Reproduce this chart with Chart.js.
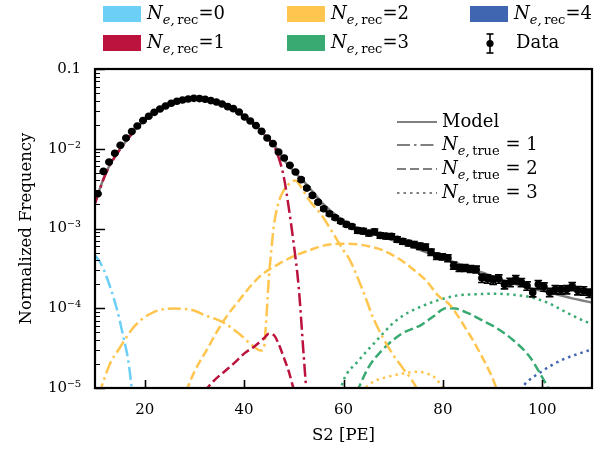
<!DOCTYPE html>
<html lang="en">
<head>
<meta charset="UTF-8">
<title>S2 spectrum by reconstructed electrons</title>
<script src="https://cdn.jsdelivr.net/npm/chart.js"></script>
<style>
  body { margin: 0; background: #fff; }
  #wrap { position: relative; width: 611px; height: 449px; font-family: 'DejaVu Serif', serif; color: #000; overflow: hidden; }
  #chart { position: absolute; left: 0; top: 0; }
  .patch { position: absolute; width: 38px; height: 16px; }
  .lbl { position: absolute; font-size: 18px; line-height: 20px; white-space: nowrap; }
  .lbl i { font-style: italic; }
  .lbl sub { font-size: 13px; line-height: 0; vertical-align: -5px; }
  svg.keys { position: absolute; left: 0; top: 0; }
</style>
</head>
<body>
<div id="wrap">
  <canvas id="chart" width="611" height="449"></canvas>
  <div id="legends"></div>
</div>
<script>
// ---- data ----
const binCenters = [10.57, 11.70, 12.84, 13.98, 15.11, 16.25, 17.39, 18.52, 19.66, 20.80,
  21.93, 23.07, 24.20, 25.34, 26.48, 27.61, 28.75, 29.89, 31.02, 32.16,
  33.30, 34.43, 35.57, 36.70, 37.84, 38.98, 40.11, 41.25, 42.39, 43.52,
  44.66, 45.80, 46.93, 48.07, 49.20, 50.34, 51.48, 52.61, 53.75, 54.89,
  56.02, 57.16, 58.30, 59.43, 60.57, 61.70, 62.84, 63.98, 65.11, 66.25,
  67.39, 68.52, 69.66, 70.80, 71.93, 73.07, 74.20, 75.34, 76.48, 77.61,
  78.75, 79.89, 81.02, 82.16, 83.30, 84.43, 85.57, 86.70, 87.84, 88.98,
  90.11, 91.25, 92.39, 93.52, 94.66, 95.80, 96.93, 98.07, 99.20, 100.34,
  101.48, 102.61, 103.75, 104.89, 106.02, 107.16, 108.30, 109.43];
const dataValues = [2.73e-3, 5.20e-3, 6.81e-3, 8.75e-3, 0.01104, 0.01361, 0.01640, 0.01927, 0.02253, 0.02552,
  0.02862, 0.03148, 0.03435, 0.03713, 0.03934, 0.04083, 0.04205, 0.04285, 0.04256, 0.04169,
  0.04017, 0.03855, 0.03639, 0.03373, 0.03185, 0.02886, 0.02500, 0.02228, 0.01950, 0.01652,
  0.01361, 0.01159, 9.10e-3, 7.64e-3, 6.19e-3, 5.10e-3, 4.10e-3, 3.21e-3, 2.60e-3, 2.14e-3,
  1.77e-3, 1.53e-3, 1.37e-3, 1.23e-3, 1.125e-3, 1.06e-3, 9.47e-4, 9.27e-4, 8.75e-4, 9.12e-4,
  8.19e-4, 8.03e-4, 7.96e-4, 7.30e-4, 6.89e-4, 6.56e-4, 6.31e-4, 6.01e-4, 5.85e-4, 5.06e-4,
  4.51e-4, 4.43e-4, 4.26e-4, 3.44e-4, 3.22e-4, 3.22e-4, 3.13e-4, 3.07e-4, 2.39e-4, 2.34e-4,
  2.26e-4, 2.34e-4, 1.99e-4, 2.12e-4, 2.30e-4, 2.11e-4, 1.91e-4, 1.58e-4, 1.99e-4, 1.86e-4,
  1.59e-4, 1.72e-4, 1.71e-4, 1.72e-4, 1.88e-4, 1.67e-4, 1.66e-4, 1.55e-4];
// relative size of the error bars
const dataRelErr = [0.02, 0.02, 0.02, 0.02, 0.02, 0.02, 0.02, 0.02, 0.02, 0.02,
  0.02, 0.02, 0.02, 0.02, 0.02, 0.02, 0.02, 0.02, 0.02, 0.02,
  0.02, 0.02, 0.02, 0.02, 0.02, 0.02, 0.02, 0.02, 0.02, 0.02,
  0.02, 0.02, 0.02, 0.02, 0.02, 0.02, 0.04, 0.04, 0.04, 0.04,
  0.05, 0.05, 0.05, 0.05, 0.06, 0.06, 0.08, 0.08, 0.08, 0.08,
  0.08, 0.08, 0.08, 0.08, 0.08, 0.08, 0.09, 0.09, 0.09, 0.09,
  0.09, 0.09, 0.10, 0.10, 0.10, 0.10, 0.10, 0.10, 0.12, 0.12,
  0.12, 0.12, 0.12, 0.12, 0.12, 0.12, 0.12, 0.12, 0.12, 0.12,
  0.12, 0.12, 0.12, 0.12, 0.12, 0.12, 0.12, 0.12];

const modelX = [10, 12, 14, 16, 18, 20, 22, 24, 26, 28, 30, 32, 34, 36, 38, 40, 42, 44, 46, 48,
  50, 52, 54, 56, 58, 60, 62, 64, 66, 68, 70, 72, 74, 76, 78, 80, 82, 84, 86, 88,
  90, 92, 94, 96, 98, 100, 102, 104, 106, 108, 110];
const modelY = [2.1e-3, 4.7e-3, 8.0e-3, 0.0119, 0.0171, 0.0229, 0.0287, 0.0337, 0.0383, 0.0412,
  0.0425, 0.0419, 0.0393, 0.0355, 0.0313, 0.0251, 0.0204, 0.0151, 0.0112, 7.3e-3,
  5.2e-3, 3.9e-3, 2.8e-3, 2.0e-3, 1.55e-3, 1.25e-3, 1.06e-3, 9.4e-4, 8.5e-4, 7.8e-4,
  7.1e-4, 6.5e-4, 5.9e-4, 5.2e-4, 4.7e-4, 4.25e-4, 3.85e-4, 3.45e-4, 3.1e-4, 2.8e-4,
  2.5e-4, 2.25e-4, 2.05e-4, 1.9e-4, 1.76e-4, 1.65e-4, 1.54e-4, 1.43e-4, 1.33e-4, 1.25e-4, 1.18e-4];

// N_e,rec = 0
const rec0True1X = [10, 11, 12.3, 14.3, 15.7, 16.7, 17.4, 17.8];
const rec0True1Y = [4.6e-4, 3.8e-4, 2.5e-4, 1.03e-4, 4.4e-5, 2.2e-5, 1e-5, 7e-6];
// N_e,rec = 1
const rec1True1X = [10, 12, 14, 16, 18, 20, 22, 24, 26, 28, 30, 32, 34, 36, 38, 40, 42, 44, 46, 47,
  48, 49, 50, 51, 52, 52.6];
const rec1True1Y = [2.05e-3, 4.6e-3, 7.9e-3, 0.0118, 0.0170, 0.0228, 0.0286, 0.0336, 0.0382, 0.0411,
  0.0422, 0.0418, 0.0392, 0.0354, 0.0312, 0.0250, 0.0203, 0.0150, 0.0108, 7.6e-3,
  4.4e-3, 1.8e-3, 6.3e-4, 1.8e-4, 2.5e-5, 8e-6];
const rec1True2X = [32.0, 34, 36, 38, 40, 42, 44, 45, 46, 47, 48, 49, 50.1];
const rec1True2Y = [9e-6, 1.25e-5, 1.6e-5, 2.05e-5, 2.7e-5, 3.3e-5, 4.2e-5, 4.8e-5, 4.6e-5, 3.5e-5, 2.4e-5, 1.6e-5, 9e-6];
// N_e,rec = 2
const rec2True1X = [10.7, 13, 15, 18, 21.7, 25.7, 29.3, 32.3, 35.7, 39, 41.7, 43.3, 44, 44.5, 45, 45.5,
  46, 47, 48, 49, 50.3, 51.5, 53, 55.5, 58, 60, 61.3, 64, 66, 68, 70, 72, 74.7, 75.3];
const rec2True1Y = [8e-6, 2e-5, 3.2e-5, 6e-5, 8.9e-5, 9.9e-5, 9.6e-5, 8.1e-5, 6.7e-5, 4.8e-5, 3.4e-5, 2.95e-5, 3.2e-5, 8e-5, 2.5e-4, 5.5e-4,
  1.1e-3, 2.2e-3, 3.0e-3, 3.6e-3, 4.0e-3, 3.3e-3, 2.3e-3, 1.5e-3, 8.5e-4, 5.3e-4, 4.0e-4, 1.6e-4, 7.5e-5, 4.2e-5, 2.6e-5, 1.75e-5, 1e-5, 8e-6];
const rec2True2X = [28.3, 30, 32.4, 35.7, 39, 43, 47, 50, 53, 56, 59.5, 62, 65, 67.7, 70, 72.4, 74.5, 76.7,
  79, 81.4, 84, 87.2, 90.5, 91.2];
const rec2True2Y = [9e-6, 1.6e-5, 2.95e-5, 6.7e-5, 1.26e-4, 2.46e-4, 3.6e-4, 4.5e-4, 5.3e-4, 6.1e-4, 6.45e-4, 6.4e-4, 6.0e-4, 5.4e-4, 4.6e-4, 3.7e-4, 2.9e-4, 2.2e-4,
  1.45e-4, 1.1e-4, 6.4e-5, 2.95e-5, 1.1e-5, 8e-6];
const rec2True3X = [63.5, 66, 68.7, 72, 74.7, 77, 78.7, 79.8, 80.2];
const rec2True3Y = [9e-6, 1.2e-5, 1.37e-5, 1.52e-5, 1.6e-5, 1.5e-5, 1.3e-5, 1.02e-5, 9e-6];
// N_e,rec = 3
const rec3True2X = [62.7, 65, 67.7, 71.7, 75.7, 78.2, 80.6, 82.5, 85.2, 88, 90.5, 94.1, 97.5, 99.6, 101.2, 101.6];
const rec3True2Y = [9e-6, 1.8e-5, 2.95e-5, 4.8e-5, 6.2e-5, 8.0e-5, 1.0e-4, 9.9e-5, 8.6e-5, 7.0e-5, 5.8e-5, 4.0e-5, 2.45e-5, 1.5e-5, 1e-5, 9e-6];
const rec3True3X = [59.3, 60, 63, 66, 70.7, 76.1, 82.7, 87, 90.8, 94, 97.5, 101, 104.2, 107, 110];
const rec3True3Y = [9e-6, 1.25e-5, 2.2e-5, 3.55e-5, 7.1e-5, 1.08e-4, 1.44e-4, 1.5e-4, 1.52e-4, 1.48e-4, 1.38e-4, 1.18e-4, 9.3e-5, 7.6e-5, 6.3e-5];
// N_e,rec = 4
const rec4True3X = [95.5, 97, 99.8, 102, 104.5, 107, 110];
const rec4True3Y = [9.5e-6, 1.2e-5, 1.6e-5, 1.95e-5, 2.33e-5, 2.65e-5, 3.05e-5];

const xTicks = [20, 40, 60, 80, 100];
const yTickValues = [1e-5, 1e-4, 1e-3, 1e-2, 1e-1];
const yTickLabels = ['10\u207B\u2075', '10\u207B\u2074', '10\u207B\u00B3', '10\u207B\u00B2', '0.1'];

const recLabels = ['0', '1', '2', '3', '4'];
const recColors = ['rgb(108,207,246)', 'rgb(187,19,62)', 'rgb(255,197,79)', 'rgb(57,170,114)', 'rgb(64,101,177)'];
const trueLabels = ['1', '2', '3'];

// ---- styles ----
const DASHDOT = [13, 4, 2.5, 4];
const DASHED = [9, 4];
const DOTTED = [2.5, 4];
const GRAY = 'rgb(128,128,128)';
const FONT = "'DejaVu Serif', serif";

function curve(xs, ys, color, dash, order) {
  return {
    data: xs.map((x, i) => ({ x: x, y: ys[i] })),
    borderColor: color,
    borderWidth: 2.5,
    borderDash: dash,
    pointRadius: 0,
    fill: false,
    cubicInterpolationMode: 'monotone',
    order: order
  };
}

const datasets = [
  {
    data: binCenters.map((x, i) => ({ x: x, y: dataValues[i] })),
    showLine: false,
    pointRadius: 3.8,
    pointBackgroundColor: '#000',
    pointBorderColor: '#000',
    pointBorderWidth: 0,
    order: 0
  },
  curve(modelX, modelY, GRAY, [], 2),
  curve(rec0True1X, rec0True1Y, recColors[0], DASHDOT, 1),
  curve(rec1True1X, rec1True1Y, recColors[1], DASHDOT, 1),
  curve(rec1True2X, rec1True2Y, recColors[1], DASHED, 1),
  curve(rec2True1X, rec2True1Y, recColors[2], DASHDOT, 1),
  curve(rec2True2X, rec2True2Y, recColors[2], DASHED, 1),
  curve(rec2True3X, rec2True3Y, recColors[2], DOTTED, 1),
  curve(rec3True2X, rec3True2Y, recColors[3], DASHED, 1),
  curve(rec3True3X, rec3True3Y, recColors[3], DOTTED, 1),
  curve(rec4True3X, rec4True3Y, recColors[4], DOTTED, 1)
];

// error bars on the data points
const errorBars = {
  id: 'errorBars',
  afterDatasetsDraw(chart) {
    const ctx = chart.ctx;
    const x = chart.scales.x, y = chart.scales.y;
    ctx.save();
    ctx.strokeStyle = '#000';
    ctx.lineWidth = 1.6;
    binCenters.forEach((bx, i) => {
      const px = x.getPixelForValue(bx);
      const lo = y.getPixelForValue(dataValues[i] * (1 - dataRelErr[i]));
      const hi = y.getPixelForValue(dataValues[i] * (1 + dataRelErr[i]));
      ctx.beginPath();
      ctx.moveTo(px, lo); ctx.lineTo(px, hi);
      ctx.moveTo(px - 3.8, lo); ctx.lineTo(px + 3.8, lo);
      ctx.moveTo(px - 3.8, hi); ctx.lineTo(px + 3.8, hi);
      ctx.stroke();
    });
    ctx.restore();
  }
};

// inward ticks and the frame
const axisDecor = {
  id: 'axisDecor',
  afterDraw(chart) {
    const ctx = chart.ctx;
    const a = chart.chartArea;
    const x = chart.scales.x, y = chart.scales.y;
    ctx.save();
    ctx.strokeStyle = '#000';
    ctx.lineWidth = 1.6;
    ctx.beginPath();
    xTicks.forEach(v => {
      const px = Math.round(x.getPixelForValue(v)) + 0.5;
      ctx.moveTo(px, a.bottom); ctx.lineTo(px, a.bottom - 8);
    });
    yTickValues.forEach(v => {
      const py = Math.round(y.getPixelForValue(v)) + 0.5;
      ctx.moveTo(a.left, py); ctx.lineTo(a.left + 10, py);
    });
    ctx.stroke();
    ctx.lineWidth = 1.1;
    ctx.beginPath();
    for (let k = 0; k < yTickValues.length - 1; k++) {
      for (let m = 2; m < 10; m++) {
        const py = Math.round(y.getPixelForValue(yTickValues[k] * m)) + 0.5;
        ctx.moveTo(a.left, py); ctx.lineTo(a.left + 5, py);
      }
    }
    ctx.stroke();
    ctx.lineWidth = 2.2;
    ctx.strokeRect(a.left, a.top, a.right - a.left, a.bottom - a.top);
    ctx.restore();
  }
};

new Chart(document.getElementById('chart').getContext('2d'), {
  type: 'line',
  data: { datasets: datasets },
  options: {
    responsive: false,
    animation: false,
    events: [],
    layout: { padding: { left: 0, top: 69, right: 19, bottom: 0 } },
    plugins: { legend: { display: false }, tooltip: { enabled: false } },
    scales: {
      x: {
        type: 'linear',
        min: 10,
        max: 110,
        afterFit: s => { s.height = 61; },
        afterBuildTicks: s => { s.ticks = xTicks.map(v => ({ value: v })); },
        grid: { display: false, drawTicks: false },
        border: { display: false },
        ticks: { autoSkip: false, maxRotation: 0, padding: 13, color: '#000', font: { family: FONT, size: 15 } },
        title: { display: true, text: 'S2 [PE]', color: '#000', font: { family: FONT, size: 16.5 }, padding: { top: 0, bottom: 3 } }
      },
      y: {
        type: 'logarithmic',
        min: 1e-5,
        max: 0.1,
        afterFit: s => { s.width = 95; },
        afterBuildTicks: s => { s.ticks = yTickValues.map(v => ({ value: v, major: true })); },
        grid: { display: false, drawTicks: false },
        border: { display: false },
        ticks: {
          autoSkip: false,
          padding: 14,
          color: '#000',
          font: { family: FONT, size: 15 },
          callback: v => {
            const k = yTickValues.findIndex(t => Math.abs(Math.log10(t) - Math.log10(v)) < 1e-6);
            return k < 0 ? '' : yTickLabels[k];
          }
        },
        title: { display: true, text: 'Normalized Frequency', color: '#000', font: { family: FONT, size: 16.5 }, padding: { top: 17, bottom: 0 } }
      }
    }
  },
  plugins: [errorBars, axisDecor]
});

// ---- legends (HTML so the math subscripts stay real text) ----
function neLabel(sub, val, spaced) {
  const eq = spaced ? ' = ' : '=';
  return '<i>N</i><sub><i>e,</i>\u2009' + sub + '</sub>' + eq + val;
}

const legendHost = document.getElementById('legends');
let html = '';
// top legend: patches in three columns, two rows (column-major order)
const colLeft = [103, 287, 470];
const rowMid = [14, 43];
recLabels.forEach((lab, k) => {
  const c = Math.floor(k / 2), r = k % 2;
  html += '<div class="patch" style="left:' + colLeft[c] + 'px;top:' + (rowMid[r] - 8) + 'px;background:' + recColors[k] + '"></div>';
  html += '<div class="lbl" style="left:' + (colLeft[c] + 44) + 'px;top:' + (rowMid[r] - 11) + 'px">' + neLabel('rec', lab, false) + '</div>';
});
html += '<div class="lbl" style="left:516px;top:' + (rowMid[1] - 11) + 'px">Data</div>';
// inner legend: model and N_e,true line styles
const innerRows = [122, 145, 169, 193];
html += '<div class="lbl" style="left:442px;top:' + (innerRows[0] - 11) + 'px">Model</div>';
trueLabels.forEach((lab, k) => {
  html += '<div class="lbl" style="left:442px;top:' + (innerRows[k + 1] - 11) + 'px">' + neLabel('true', lab, true) + '</div>';
});
const dashes = ['', DASHDOT.join(','), DASHED.join(','), DOTTED.join(',')];
let svg = '<svg class="keys" width="611" height="449">';
innerRows.forEach((yy, k) => {
  svg += '<line x1="397" x2="437" y1="' + yy + '" y2="' + yy + '" stroke="' + GRAY + '" stroke-width="2.2"' +
    (dashes[k] ? ' stroke-dasharray="' + dashes[k] + '"' : '') + '/>';
});
svg += '<line x1="490" x2="490" y1="34" y2="53" stroke="#000" stroke-width="1.6"/>';
svg += '<line x1="486.5" x2="493.5" y1="34" y2="34" stroke="#000" stroke-width="1.6"/>';
svg += '<line x1="486.5" x2="493.5" y1="53" y2="53" stroke="#000" stroke-width="1.6"/>';
svg += '<circle cx="490" cy="43.5" r="3.6" fill="#000"/>';
svg += '</svg>';
legendHost.innerHTML = html + svg;
</script>
</body>
</html>
